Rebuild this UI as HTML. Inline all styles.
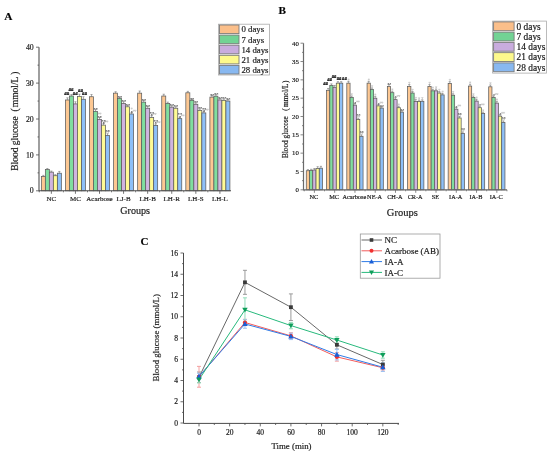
<!DOCTYPE html><html><head><meta charset="utf-8"><style>html,body{margin:0;padding:0;background:#fff;}svg{display:block;will-change:transform;}text{font-family:"Liberation Serif",serif;}text:not([fill]){fill:#1a1a1a;}text:not([stroke]){stroke:#1a1a1a;stroke-width:0.18px;}</style></head><body>
<svg width="550" height="455" viewBox="0 0 550 455">
<text x="4.3" y="19.9" font-size="11.3" font-weight="bold" fill="#000">A</text>
<rect x="41.35" y="176.44" width="4" height="14.36" fill="#fdc893" stroke="#5c5c5c" stroke-width="0.75"/>
<path d="M43.35 176.44V175.36M42.25 175.36H44.45" stroke="#666" stroke-width="0.55" fill="none"/>
<rect x="45.35" y="169.62" width="4" height="21.18" fill="#80de9f" stroke="#5c5c5c" stroke-width="0.75"/>
<path d="M47.35 169.62V168.54M46.25 168.54H48.45" stroke="#666" stroke-width="0.55" fill="none"/>
<rect x="49.35" y="172.13" width="4" height="18.67" fill="#cfb5e0" stroke="#5c5c5c" stroke-width="0.75"/>
<path d="M51.35 172.13V171.06M50.25 171.06H52.45" stroke="#666" stroke-width="0.55" fill="none"/>
<rect x="53.35" y="175.72" width="4" height="15.08" fill="#fffb94" stroke="#5c5c5c" stroke-width="0.75"/>
<path d="M55.35 175.72V174.65M54.25 174.65H56.45" stroke="#666" stroke-width="0.55" fill="none"/>
<rect x="57.35" y="173.21" width="4" height="17.59" fill="#8ec0f8" stroke="#5c5c5c" stroke-width="0.75"/>
<path d="M59.35 173.21V171.41M58.25 171.41H60.45" stroke="#666" stroke-width="0.55" fill="none"/>
<rect x="65.43" y="99.97" width="4" height="90.83" fill="#fdc893" stroke="#5c5c5c" stroke-width="0.75"/>
<path d="M67.43 99.97V97.82M66.33 97.82H68.53" stroke="#666" stroke-width="0.55" fill="none"/>
<rect x="69.43" y="96.02" width="4" height="94.78" fill="#80de9f" stroke="#5c5c5c" stroke-width="0.75"/>
<path d="M71.43 96.02V94.59M70.33 94.59H72.53" stroke="#666" stroke-width="0.55" fill="none"/>
<rect x="73.43" y="103.92" width="4" height="86.88" fill="#cfb5e0" stroke="#5c5c5c" stroke-width="0.75"/>
<path d="M75.43 103.92V101.77M74.33 101.77H76.53" stroke="#666" stroke-width="0.55" fill="none"/>
<rect x="77.43" y="96.38" width="4" height="94.42" fill="#fffb94" stroke="#5c5c5c" stroke-width="0.75"/>
<path d="M79.43 96.38V94.23M78.33 94.23H80.53" stroke="#666" stroke-width="0.55" fill="none"/>
<rect x="81.43" y="99.26" width="4" height="91.55" fill="#8ec0f8" stroke="#5c5c5c" stroke-width="0.75"/>
<path d="M83.43 99.26V96.74M82.33 96.74H84.53" stroke="#666" stroke-width="0.55" fill="none"/>
<rect x="89.51" y="96.74" width="4" height="94.06" fill="#fdc893" stroke="#5c5c5c" stroke-width="0.75"/>
<path d="M91.51 96.74V94.59M90.41 94.59H92.61" stroke="#666" stroke-width="0.55" fill="none"/>
<rect x="93.51" y="111.46" width="4" height="79.34" fill="#80de9f" stroke="#5c5c5c" stroke-width="0.75"/>
<path d="M95.51 111.46V109.67M94.41 109.67H96.61" stroke="#666" stroke-width="0.55" fill="none"/>
<text x="95.81" y="111.09" text-anchor="middle" font-size="4.4" font-weight="bold" fill="#444" stroke="none">**</text>
<rect x="97.51" y="119.36" width="4" height="71.44" fill="#cfb5e0" stroke="#5c5c5c" stroke-width="0.75"/>
<path d="M99.51 119.36V117.56M98.41 117.56H100.61" stroke="#666" stroke-width="0.55" fill="none"/>
<text x="99.81" y="118.98" text-anchor="middle" font-size="4.4" font-weight="bold" fill="#444" stroke="none">**</text>
<path d="M98.01 113.06H99.51L98.76 114.36Z" fill="none" stroke="#999" stroke-width="0.4"/>
<path d="M99.71 113.06H101.21L100.46 114.36Z" fill="none" stroke="#999" stroke-width="0.4"/>
<rect x="101.51" y="125.1" width="4" height="65.7" fill="#fffb94" stroke="#5c5c5c" stroke-width="0.75"/>
<path d="M103.51 125.1V123.31M102.41 123.31H104.61" stroke="#666" stroke-width="0.55" fill="none"/>
<text x="103.81" y="124.73" text-anchor="middle" font-size="4.4" font-weight="bold" fill="#444" stroke="none">*</text>
<path d="M104.91 121.01H106.41L105.66 122.31Z" fill="none" stroke="#999" stroke-width="0.4"/>
<path d="M106.61 121.01H108.11L107.36 122.31Z" fill="none" stroke="#999" stroke-width="0.4"/>
<text x="103.81" y="122.53" text-anchor="middle" font-size="4.4" font-weight="bold" fill="#444" stroke="none">**</text>
<rect x="105.51" y="135.51" width="4" height="55.29" fill="#8ec0f8" stroke="#5c5c5c" stroke-width="0.75"/>
<path d="M107.51 135.51V133.72M106.41 133.72H108.61" stroke="#666" stroke-width="0.55" fill="none"/>
<path d="M106.01 131.42H107.51L106.76 132.72Z" fill="none" stroke="#999" stroke-width="0.4"/>
<path d="M107.71 131.42H109.21L108.46 132.72Z" fill="none" stroke="#999" stroke-width="0.4"/>
<text x="107.81" y="132.94" text-anchor="middle" font-size="4.4" font-weight="bold" fill="#444" stroke="none">**</text>
<rect x="113.59" y="93.15" width="4" height="97.65" fill="#fdc893" stroke="#5c5c5c" stroke-width="0.75"/>
<path d="M115.59 93.15V91.72M114.49 91.72H116.69" stroke="#666" stroke-width="0.55" fill="none"/>
<rect x="117.59" y="98.54" width="4" height="92.26" fill="#80de9f" stroke="#5c5c5c" stroke-width="0.75"/>
<path d="M119.59 98.54V97.1M118.49 97.1H120.69" stroke="#666" stroke-width="0.55" fill="none"/>
<text x="119.89" y="98.52" text-anchor="middle" font-size="4.4" font-weight="bold" fill="#444" stroke="none">**</text>
<rect x="121.59" y="103.56" width="4" height="87.24" fill="#cfb5e0" stroke="#5c5c5c" stroke-width="0.75"/>
<path d="M123.59 103.56V101.77M122.49 101.77H124.69" stroke="#666" stroke-width="0.55" fill="none"/>
<text x="123.89" y="103.19" text-anchor="middle" font-size="4.4" font-weight="bold" fill="#444" stroke="none">**</text>
<rect x="125.59" y="106.79" width="4" height="84.01" fill="#fffb94" stroke="#5c5c5c" stroke-width="0.75"/>
<path d="M127.59 106.79V105.36M126.49 105.36H128.69" stroke="#666" stroke-width="0.55" fill="none"/>
<text x="127.89" y="106.78" text-anchor="middle" font-size="4.4" font-weight="bold" fill="#444" stroke="none">**</text>
<rect x="129.59" y="113.97" width="4" height="76.83" fill="#8ec0f8" stroke="#5c5c5c" stroke-width="0.75"/>
<path d="M131.59 113.97V112.54M130.49 112.54H132.69" stroke="#666" stroke-width="0.55" fill="none"/>
<text x="131.89" y="113.96" text-anchor="middle" font-size="4.4" font-weight="bold" fill="#444" stroke="none">*</text>
<path d="M132.99 110.24H134.49L133.74 111.54Z" fill="none" stroke="#999" stroke-width="0.4"/>
<path d="M134.69 110.24H136.19L135.44 111.54Z" fill="none" stroke="#999" stroke-width="0.4"/>
<path d="M130.94 108.04H132.44L131.69 109.34Z" fill="none" stroke="#999" stroke-width="0.4"/>
<rect x="137.67" y="93.15" width="4" height="97.65" fill="#fdc893" stroke="#5c5c5c" stroke-width="0.75"/>
<path d="M139.67 93.15V91M138.57 91H140.77" stroke="#666" stroke-width="0.55" fill="none"/>
<rect x="141.67" y="102.13" width="4" height="88.67" fill="#80de9f" stroke="#5c5c5c" stroke-width="0.75"/>
<path d="M143.67 102.13V100.33M142.57 100.33H144.77" stroke="#666" stroke-width="0.55" fill="none"/>
<text x="143.97" y="101.75" text-anchor="middle" font-size="4.4" font-weight="bold" fill="#444" stroke="none">**</text>
<rect x="145.67" y="108.23" width="4" height="82.57" fill="#cfb5e0" stroke="#5c5c5c" stroke-width="0.75"/>
<path d="M147.67 108.23V106.44M146.57 106.44H148.77" stroke="#666" stroke-width="0.55" fill="none"/>
<text x="147.97" y="107.86" text-anchor="middle" font-size="4.4" font-weight="bold" fill="#444" stroke="none">**</text>
<rect x="149.67" y="117.56" width="4" height="73.24" fill="#fffb94" stroke="#5c5c5c" stroke-width="0.75"/>
<path d="M151.67 117.56V115.77M150.57 115.77H152.77" stroke="#666" stroke-width="0.55" fill="none"/>
<text x="151.97" y="117.19" text-anchor="middle" font-size="4.4" font-weight="bold" fill="#444" stroke="none">*</text>
<path d="M153.07 113.47H154.57L153.82 114.77Z" fill="none" stroke="#999" stroke-width="0.4"/>
<path d="M154.77 113.47H156.27L155.52 114.77Z" fill="none" stroke="#999" stroke-width="0.4"/>
<text x="151.97" y="114.99" text-anchor="middle" font-size="4.4" font-weight="bold" fill="#444" stroke="none">**</text>
<rect x="153.67" y="125.46" width="4" height="65.34" fill="#8ec0f8" stroke="#5c5c5c" stroke-width="0.75"/>
<path d="M155.67 125.46V124.03M154.57 124.03H156.77" stroke="#666" stroke-width="0.55" fill="none"/>
<text x="155.97" y="125.45" text-anchor="middle" font-size="4.4" font-weight="bold" fill="#444" stroke="none">*</text>
<path d="M157.07 121.73H158.57L157.82 123.03Z" fill="none" stroke="#999" stroke-width="0.4"/>
<path d="M158.77 121.73H160.27L159.52 123.03Z" fill="none" stroke="#999" stroke-width="0.4"/>
<text x="155.97" y="123.25" text-anchor="middle" font-size="4.4" font-weight="bold" fill="#444" stroke="none">**</text>
<rect x="161.75" y="96.02" width="4" height="94.78" fill="#fdc893" stroke="#5c5c5c" stroke-width="0.75"/>
<path d="M163.75 96.02V94.23M162.65 94.23H164.85" stroke="#666" stroke-width="0.55" fill="none"/>
<rect x="165.75" y="103.56" width="4" height="87.24" fill="#80de9f" stroke="#5c5c5c" stroke-width="0.75"/>
<path d="M167.75 103.56V102.13M166.65 102.13H168.85" stroke="#666" stroke-width="0.55" fill="none"/>
<rect x="169.75" y="107.15" width="4" height="83.65" fill="#cfb5e0" stroke="#5c5c5c" stroke-width="0.75"/>
<path d="M171.75 107.15V105.72M170.65 105.72H172.85" stroke="#666" stroke-width="0.55" fill="none"/>
<text x="172.05" y="107.14" text-anchor="middle" font-size="4.4" font-weight="bold" fill="#444" stroke="none">**</text>
<rect x="173.75" y="108.23" width="4" height="82.57" fill="#fffb94" stroke="#5c5c5c" stroke-width="0.75"/>
<path d="M175.75 108.23V106.79M174.65 106.79H176.85" stroke="#666" stroke-width="0.55" fill="none"/>
<text x="176.05" y="108.21" text-anchor="middle" font-size="4.4" font-weight="bold" fill="#444" stroke="none">**</text>
<rect x="177.75" y="118.64" width="4" height="72.16" fill="#8ec0f8" stroke="#5c5c5c" stroke-width="0.75"/>
<path d="M179.75 118.64V117.21M178.65 117.21H180.85" stroke="#666" stroke-width="0.55" fill="none"/>
<text x="180.05" y="118.63" text-anchor="middle" font-size="4.4" font-weight="bold" fill="#444" stroke="none">*</text>
<path d="M181.15 114.91H182.65L181.9 116.21Z" fill="none" stroke="#999" stroke-width="0.4"/>
<path d="M182.85 114.91H184.35L183.6 116.21Z" fill="none" stroke="#999" stroke-width="0.4"/>
<text x="180.05" y="116.43" text-anchor="middle" font-size="4.4" font-weight="bold" fill="#444" stroke="none">**</text>
<rect x="185.83" y="92.79" width="4" height="98.01" fill="#fdc893" stroke="#5c5c5c" stroke-width="0.75"/>
<path d="M187.83 92.79V91.36M186.73 91.36H188.93" stroke="#666" stroke-width="0.55" fill="none"/>
<rect x="189.83" y="100.33" width="4" height="90.47" fill="#80de9f" stroke="#5c5c5c" stroke-width="0.75"/>
<path d="M191.83 100.33V99.26M190.73 99.26H192.93" stroke="#666" stroke-width="0.55" fill="none"/>
<text x="192.13" y="100.68" text-anchor="middle" font-size="4.4" font-weight="bold" fill="#444" stroke="none">**</text>
<rect x="193.83" y="104.28" width="4" height="86.52" fill="#cfb5e0" stroke="#5c5c5c" stroke-width="0.75"/>
<path d="M195.83 104.28V102.84M194.73 102.84H196.93" stroke="#666" stroke-width="0.55" fill="none"/>
<text x="196.13" y="104.27" text-anchor="middle" font-size="4.4" font-weight="bold" fill="#444" stroke="none">**</text>
<rect x="197.83" y="110.38" width="4" height="80.42" fill="#fffb94" stroke="#5c5c5c" stroke-width="0.75"/>
<path d="M199.83 110.38V108.95M198.73 108.95H200.93" stroke="#666" stroke-width="0.55" fill="none"/>
<text x="200.13" y="110.37" text-anchor="middle" font-size="4.4" font-weight="bold" fill="#444" stroke="none">**</text>
<rect x="201.83" y="112.9" width="4" height="77.9" fill="#8ec0f8" stroke="#5c5c5c" stroke-width="0.75"/>
<path d="M203.83 112.9V111.46M202.73 111.46H204.93" stroke="#666" stroke-width="0.55" fill="none"/>
<text x="204.13" y="112.88" text-anchor="middle" font-size="4.4" font-weight="bold" fill="#444" stroke="none">*</text>
<path d="M205.23 109.16H206.73L205.98 110.46Z" fill="none" stroke="#999" stroke-width="0.4"/>
<path d="M206.93 109.16H208.43L207.68 110.46Z" fill="none" stroke="#999" stroke-width="0.4"/>
<text x="204.13" y="110.68" text-anchor="middle" font-size="4.4" font-weight="bold" fill="#444" stroke="none">**</text>
<rect x="209.91" y="97.1" width="4" height="93.7" fill="#fdc893" stroke="#5c5c5c" stroke-width="0.75"/>
<path d="M211.91 97.1V95.31M210.81 95.31H213.01" stroke="#666" stroke-width="0.55" fill="none"/>
<text x="212.21" y="96.73" text-anchor="middle" font-size="4.4" font-weight="bold" fill="#444" stroke="none">**</text>
<rect x="213.91" y="96.2" width="4" height="94.6" fill="#80de9f" stroke="#5c5c5c" stroke-width="0.75"/>
<path d="M215.91 96.2V94.77M214.81 94.77H217.01" stroke="#666" stroke-width="0.55" fill="none"/>
<text x="216.21" y="96.19" text-anchor="middle" font-size="4.4" font-weight="bold" fill="#444" stroke="none">**</text>
<rect x="217.91" y="99.97" width="4" height="90.83" fill="#cfb5e0" stroke="#5c5c5c" stroke-width="0.75"/>
<path d="M219.91 99.97V98.54M218.81 98.54H221.01" stroke="#666" stroke-width="0.55" fill="none"/>
<text x="220.21" y="99.96" text-anchor="middle" font-size="4.4" font-weight="bold" fill="#444" stroke="none">**</text>
<rect x="221.91" y="100.33" width="4" height="90.47" fill="#fffb94" stroke="#5c5c5c" stroke-width="0.75"/>
<path d="M223.91 100.33V98.9M222.81 98.9H225.01" stroke="#666" stroke-width="0.55" fill="none"/>
<text x="224.21" y="100.32" text-anchor="middle" font-size="4.4" font-weight="bold" fill="#444" stroke="none">**</text>
<rect x="225.91" y="101.05" width="4" height="89.75" fill="#8ec0f8" stroke="#5c5c5c" stroke-width="0.75"/>
<path d="M227.91 101.05V99.61M226.81 99.61H229.01" stroke="#666" stroke-width="0.55" fill="none"/>
<text x="228.21" y="101.03" text-anchor="middle" font-size="4.4" font-weight="bold" fill="#444" stroke="none">**</text>
<path d="M39 47.2V190.8H231" stroke="#505050" stroke-width="1.1" fill="none"/>
<path d="M36 190.8H39" stroke="#505050" stroke-width="0.8"/>
<path d="M36 154.9H39" stroke="#505050" stroke-width="0.8"/>
<path d="M36 119H39" stroke="#505050" stroke-width="0.8"/>
<path d="M36 83.1H39" stroke="#505050" stroke-width="0.8"/>
<path d="M36 47.2H39" stroke="#505050" stroke-width="0.8"/>
<path d="M37.5 172.85H39" stroke="#505050" stroke-width="0.8"/>
<path d="M37.5 136.95H39" stroke="#505050" stroke-width="0.8"/>
<path d="M37.5 101.05H39" stroke="#505050" stroke-width="0.8"/>
<path d="M37.5 65.15H39" stroke="#505050" stroke-width="0.8"/>
<path d="M51.35 190.8V193.8" stroke="#505050" stroke-width="0.8"/>
<path d="M63.39 190.8V192.3" stroke="#505050" stroke-width="0.8"/>
<path d="M75.43 190.8V193.8" stroke="#505050" stroke-width="0.8"/>
<path d="M87.47 190.8V192.3" stroke="#505050" stroke-width="0.8"/>
<path d="M99.51 190.8V193.8" stroke="#505050" stroke-width="0.8"/>
<path d="M111.55 190.8V192.3" stroke="#505050" stroke-width="0.8"/>
<path d="M123.59 190.8V193.8" stroke="#505050" stroke-width="0.8"/>
<path d="M135.63 190.8V192.3" stroke="#505050" stroke-width="0.8"/>
<path d="M147.67 190.8V193.8" stroke="#505050" stroke-width="0.8"/>
<path d="M159.71 190.8V192.3" stroke="#505050" stroke-width="0.8"/>
<path d="M171.75 190.8V193.8" stroke="#505050" stroke-width="0.8"/>
<path d="M183.79 190.8V192.3" stroke="#505050" stroke-width="0.8"/>
<path d="M195.83 190.8V193.8" stroke="#505050" stroke-width="0.8"/>
<path d="M207.87 190.8V192.3" stroke="#505050" stroke-width="0.8"/>
<path d="M219.91 190.8V193.8" stroke="#505050" stroke-width="0.8"/>
<path d="M39.31 190.8V192.3" stroke="#505050" stroke-width="0.8"/>
<text x="33.7" y="193.45" text-anchor="end" font-size="7.8">0</text>
<text x="33.7" y="157.55" text-anchor="end" font-size="7.8">10</text>
<text x="33.7" y="121.65" text-anchor="end" font-size="7.8">20</text>
<text x="33.7" y="85.75" text-anchor="end" font-size="7.8">30</text>
<text x="33.7" y="49.85" text-anchor="end" font-size="7.8">40</text>
<text x="51.35" y="200.5" text-anchor="middle" font-size="7.0">NC</text>
<text x="75.43" y="200.5" text-anchor="middle" font-size="7.0">MC</text>
<text x="99.51" y="200.5" text-anchor="middle" font-size="7.0">Acarbose</text>
<text x="123.59" y="200.5" text-anchor="middle" font-size="7.0">LJ-B</text>
<text x="147.67" y="200.5" text-anchor="middle" font-size="7.0">LH-B</text>
<text x="171.75" y="200.5" text-anchor="middle" font-size="7.0">LH-R</text>
<text x="195.83" y="200.5" text-anchor="middle" font-size="7.0">LH-S</text>
<text x="219.91" y="200.5" text-anchor="middle" font-size="7.0">LH-L</text>
<text x="135.2" y="213.6" text-anchor="middle" font-size="10.1">Groups</text>
<text transform="translate(17.9,170.8) rotate(-90)" font-size="9.5">Blood glucose</text>
<text transform="translate(17.9,111.5) rotate(-90)" font-size="9.5">(</text>
<text transform="translate(17.9,107.2) rotate(-90)" font-size="9.5">mmol/L</text>
<text transform="translate(17.9,74.7) rotate(-90)" font-size="9.5">)</text>
<text transform="translate(66.8,94) scale(1,0.62)" y="1.7" text-anchor="middle" font-size="5.0" font-weight="bold" fill="#111" stroke="#111" stroke-width="0.25">##</text>
<text transform="translate(71.1,90.3) scale(1,0.62)" y="1.7" text-anchor="middle" font-size="5.0" font-weight="bold" fill="#111" stroke="#111" stroke-width="0.25">##</text>
<text transform="translate(75.2,94) scale(1,0.62)" y="1.7" text-anchor="middle" font-size="5.0" font-weight="bold" fill="#111" stroke="#111" stroke-width="0.25">##</text>
<text transform="translate(80.4,90.6) scale(1,0.62)" y="1.7" text-anchor="middle" font-size="5.0" font-weight="bold" fill="#111" stroke="#111" stroke-width="0.25">##</text>
<text transform="translate(84.5,93.5) scale(1,0.62)" y="1.7" text-anchor="middle" font-size="5.0" font-weight="bold" fill="#111" stroke="#111" stroke-width="0.25">##</text>
<rect x="218.5" y="24.2" width="51" height="50.8" fill="#fff" stroke="#aaa" stroke-width="0.8"/>
<rect x="219.5" y="25" width="19.5" height="8.6" fill="#fbbf8a" stroke="#7a7a7a" stroke-width="0.9"/>
<text x="241.4" y="32.4" font-size="8.8">0 days</text>
<rect x="219.5" y="35.1" width="19.5" height="8.6" fill="#72d394" stroke="#7a7a7a" stroke-width="0.9"/>
<text x="241.4" y="42.5" font-size="8.8">7 days</text>
<rect x="219.5" y="45.2" width="19.5" height="8.6" fill="#c9acde" stroke="#7a7a7a" stroke-width="0.9"/>
<text x="241.4" y="52.6" font-size="8.8">14 days</text>
<rect x="219.5" y="55.3" width="19.5" height="8.6" fill="#fdf98c" stroke="#7a7a7a" stroke-width="0.9"/>
<text x="241.4" y="62.7" font-size="8.8">21 days</text>
<rect x="219.5" y="65.4" width="19.5" height="8.6" fill="#88b8f0" stroke="#7a7a7a" stroke-width="0.9"/>
<text x="241.4" y="72.8" font-size="8.8">28 days</text>
<text x="278.4" y="13.9" font-size="11.2" font-weight="bold" fill="#000">B</text>
<rect x="306.27" y="170.74" width="3.25" height="19.06" fill="#fdc893" stroke="#5c5c5c" stroke-width="0.75"/>
<path d="M307.9 170.74V169.64M306.8 169.64H309" stroke="#666" stroke-width="0.55" fill="none"/>
<rect x="309.52" y="170.38" width="3.25" height="19.42" fill="#80de9f" stroke="#5c5c5c" stroke-width="0.75"/>
<path d="M311.15 170.38V169.28M310.05 169.28H312.25" stroke="#666" stroke-width="0.55" fill="none"/>
<rect x="312.77" y="170.01" width="3.25" height="19.79" fill="#cfb5e0" stroke="#5c5c5c" stroke-width="0.75"/>
<path d="M314.4 170.01V168.54M313.3 168.54H315.5" stroke="#666" stroke-width="0.55" fill="none"/>
<rect x="316.02" y="168.54" width="3.25" height="21.26" fill="#fffb94" stroke="#5c5c5c" stroke-width="0.75"/>
<path d="M317.65 168.54V166.71M316.55 166.71H318.75" stroke="#666" stroke-width="0.55" fill="none"/>
<rect x="319.27" y="168.18" width="3.25" height="21.62" fill="#8ec0f8" stroke="#5c5c5c" stroke-width="0.75"/>
<path d="M320.9 168.18V166.34M319.8 166.34H322" stroke="#666" stroke-width="0.55" fill="none"/>
<rect x="326.54" y="90.3" width="3.25" height="99.5" fill="#fdc893" stroke="#5c5c5c" stroke-width="0.75"/>
<path d="M328.17 90.3V88.46M327.07 88.46H329.27" stroke="#666" stroke-width="0.55" fill="none"/>
<rect x="329.79" y="85.35" width="3.25" height="104.45" fill="#80de9f" stroke="#5c5c5c" stroke-width="0.75"/>
<path d="M331.42 85.35V83.88M330.32 83.88H332.52" stroke="#666" stroke-width="0.55" fill="none"/>
<rect x="333.04" y="87.29" width="3.25" height="102.51" fill="#cfb5e0" stroke="#5c5c5c" stroke-width="0.75"/>
<path d="M334.67 87.29V85.46M333.57 85.46H335.77" stroke="#666" stroke-width="0.55" fill="none"/>
<rect x="336.29" y="83.15" width="3.25" height="106.65" fill="#fffb94" stroke="#5c5c5c" stroke-width="0.75"/>
<path d="M337.92 83.15V81.68M336.82 81.68H339.02" stroke="#666" stroke-width="0.55" fill="none"/>
<rect x="339.54" y="83.15" width="3.25" height="106.65" fill="#8ec0f8" stroke="#5c5c5c" stroke-width="0.75"/>
<path d="M341.17 83.15V81.68M340.07 81.68H342.27" stroke="#666" stroke-width="0.55" fill="none"/>
<rect x="346.81" y="83.15" width="3.25" height="106.65" fill="#fdc893" stroke="#5c5c5c" stroke-width="0.75"/>
<path d="M348.44 83.15V81.32M347.34 81.32H349.54" stroke="#666" stroke-width="0.55" fill="none"/>
<path d="M347.79 79.02H349.29L348.54 80.32Z" fill="none" stroke="#999" stroke-width="0.4"/>
<rect x="350.06" y="97.44" width="3.25" height="92.36" fill="#80de9f" stroke="#5c5c5c" stroke-width="0.75"/>
<path d="M351.69 97.44V95.98M350.59 95.98H352.79" stroke="#666" stroke-width="0.55" fill="none"/>
<path d="M351.04 93.68H352.54L351.79 94.98Z" fill="none" stroke="#999" stroke-width="0.4"/>
<rect x="353.31" y="105.14" width="3.25" height="84.66" fill="#cfb5e0" stroke="#5c5c5c" stroke-width="0.75"/>
<path d="M354.94 105.14V103.31M353.84 103.31H356.04" stroke="#666" stroke-width="0.55" fill="none"/>
<text x="355.24" y="104.51" text-anchor="middle" font-size="4.0" font-weight="bold" fill="#444" stroke="none">*</text>
<path d="M356.34 101.01H357.84L357.09 102.31Z" fill="none" stroke="#999" stroke-width="0.4"/>
<path d="M358.04 101.01H359.54L358.79 102.31Z" fill="none" stroke="#999" stroke-width="0.4"/>
<rect x="356.56" y="119.62" width="3.25" height="70.18" fill="#fffb94" stroke="#5c5c5c" stroke-width="0.75"/>
<path d="M358.19 119.62V118.15M357.09 118.15H359.29" stroke="#666" stroke-width="0.55" fill="none"/>
<path d="M356.69 115.85H358.19L357.44 117.15Z" fill="none" stroke="#999" stroke-width="0.4"/>
<path d="M358.39 115.85H359.89L359.14 117.15Z" fill="none" stroke="#999" stroke-width="0.4"/>
<text x="358.49" y="117.15" text-anchor="middle" font-size="4.0" font-weight="bold" fill="#444" stroke="none">**</text>
<rect x="359.81" y="136.29" width="3.25" height="53.51" fill="#8ec0f8" stroke="#5c5c5c" stroke-width="0.75"/>
<path d="M361.44 136.29V134.82M360.34 134.82H362.54" stroke="#666" stroke-width="0.55" fill="none"/>
<path d="M359.94 132.52H361.44L360.69 133.82Z" fill="none" stroke="#999" stroke-width="0.4"/>
<path d="M361.64 132.52H363.14L362.39 133.82Z" fill="none" stroke="#999" stroke-width="0.4"/>
<text x="361.74" y="133.82" text-anchor="middle" font-size="4.0" font-weight="bold" fill="#444" stroke="none">**</text>
<rect x="367.08" y="83.15" width="3.25" height="106.65" fill="#fdc893" stroke="#5c5c5c" stroke-width="0.75"/>
<path d="M368.71 83.15V81.32M367.61 81.32H369.81" stroke="#666" stroke-width="0.55" fill="none"/>
<path d="M368.06 79.02H369.56L368.81 80.32Z" fill="none" stroke="#999" stroke-width="0.4"/>
<rect x="370.33" y="89.38" width="3.25" height="100.42" fill="#80de9f" stroke="#5c5c5c" stroke-width="0.75"/>
<path d="M371.96 89.38V87.91M370.86 87.91H373.06" stroke="#666" stroke-width="0.55" fill="none"/>
<path d="M371.31 85.61H372.81L372.06 86.91Z" fill="none" stroke="#999" stroke-width="0.4"/>
<rect x="373.58" y="98.18" width="3.25" height="91.62" fill="#cfb5e0" stroke="#5c5c5c" stroke-width="0.75"/>
<path d="M375.21 98.18V96.34M374.11 96.34H376.31" stroke="#666" stroke-width="0.55" fill="none"/>
<path d="M374.56 94.04H376.06L375.31 95.34Z" fill="none" stroke="#999" stroke-width="0.4"/>
<rect x="376.83" y="105.87" width="3.25" height="83.93" fill="#fffb94" stroke="#5c5c5c" stroke-width="0.75"/>
<path d="M378.46 105.87V104.41M377.36 104.41H379.56" stroke="#666" stroke-width="0.55" fill="none"/>
<text x="378.76" y="105.61" text-anchor="middle" font-size="4.0" font-weight="bold" fill="#444" stroke="none">*</text>
<path d="M379.86 102.11H381.36L380.61 103.41Z" fill="none" stroke="#999" stroke-width="0.4"/>
<path d="M381.56 102.11H383.06L382.31 103.41Z" fill="none" stroke="#999" stroke-width="0.4"/>
<rect x="380.08" y="108.07" width="3.25" height="81.73" fill="#8ec0f8" stroke="#5c5c5c" stroke-width="0.75"/>
<path d="M381.71 108.07V106.6M380.61 106.6H382.81" stroke="#666" stroke-width="0.55" fill="none"/>
<text x="382.01" y="107.8" text-anchor="middle" font-size="4.0" font-weight="bold" fill="#444" stroke="none">**</text>
<rect x="387.35" y="86.45" width="3.25" height="103.35" fill="#fdc893" stroke="#5c5c5c" stroke-width="0.75"/>
<path d="M388.98 86.45V84.61M387.88 84.61H390.08" stroke="#666" stroke-width="0.55" fill="none"/>
<text x="389.28" y="85.81" text-anchor="middle" font-size="4.0" font-weight="bold" fill="#444" stroke="none">**</text>
<rect x="390.6" y="92.68" width="3.25" height="97.12" fill="#80de9f" stroke="#5c5c5c" stroke-width="0.75"/>
<path d="M392.23 92.68V91.21M391.13 91.21H393.33" stroke="#666" stroke-width="0.55" fill="none"/>
<path d="M391.58 88.91H393.08L392.33 90.21Z" fill="none" stroke="#999" stroke-width="0.4"/>
<rect x="393.85" y="99.64" width="3.25" height="90.16" fill="#cfb5e0" stroke="#5c5c5c" stroke-width="0.75"/>
<path d="M395.48 99.64V97.81M394.38 97.81H396.58" stroke="#666" stroke-width="0.55" fill="none"/>
<text x="395.78" y="99.01" text-anchor="middle" font-size="4.0" font-weight="bold" fill="#444" stroke="none">*</text>
<path d="M396.88 95.51H398.38L397.63 96.81Z" fill="none" stroke="#999" stroke-width="0.4"/>
<path d="M398.58 95.51H400.08L399.33 96.81Z" fill="none" stroke="#999" stroke-width="0.4"/>
<rect x="397.1" y="107.7" width="3.25" height="82.1" fill="#fffb94" stroke="#5c5c5c" stroke-width="0.75"/>
<path d="M398.73 107.7V106.24M397.63 106.24H399.83" stroke="#666" stroke-width="0.55" fill="none"/>
<path d="M398.08 103.94H399.58L398.83 105.24Z" fill="none" stroke="#999" stroke-width="0.4"/>
<rect x="400.35" y="112.1" width="3.25" height="77.7" fill="#8ec0f8" stroke="#5c5c5c" stroke-width="0.75"/>
<path d="M401.98 112.1V110.64M400.88 110.64H403.08" stroke="#666" stroke-width="0.55" fill="none"/>
<text x="402.28" y="111.84" text-anchor="middle" font-size="4.0" font-weight="bold" fill="#444" stroke="none">**</text>
<rect x="407.62" y="86.45" width="3.25" height="103.35" fill="#fdc893" stroke="#5c5c5c" stroke-width="0.75"/>
<path d="M409.25 86.45V84.61M408.15 84.61H410.35" stroke="#666" stroke-width="0.55" fill="none"/>
<path d="M408.6 82.31H410.1L409.35 83.61Z" fill="none" stroke="#999" stroke-width="0.4"/>
<rect x="410.88" y="93.04" width="3.25" height="96.76" fill="#80de9f" stroke="#5c5c5c" stroke-width="0.75"/>
<path d="M412.5 93.04V91.58M411.4 91.58H413.6" stroke="#666" stroke-width="0.55" fill="none"/>
<path d="M411.85 89.28H413.35L412.6 90.58Z" fill="none" stroke="#999" stroke-width="0.4"/>
<rect x="414.12" y="101.47" width="3.25" height="88.33" fill="#cfb5e0" stroke="#5c5c5c" stroke-width="0.75"/>
<path d="M415.75 101.47V99.64M414.65 99.64H416.85" stroke="#666" stroke-width="0.55" fill="none"/>
<path d="M415.1 97.34H416.6L415.85 98.64Z" fill="none" stroke="#999" stroke-width="0.4"/>
<rect x="417.38" y="101.47" width="3.25" height="88.33" fill="#fffb94" stroke="#5c5c5c" stroke-width="0.75"/>
<path d="M419 101.47V100.01M417.9 100.01H420.1" stroke="#666" stroke-width="0.55" fill="none"/>
<path d="M418.35 97.71H419.85L419.1 99.01Z" fill="none" stroke="#999" stroke-width="0.4"/>
<rect x="420.62" y="101.29" width="3.25" height="88.51" fill="#8ec0f8" stroke="#5c5c5c" stroke-width="0.75"/>
<path d="M422.25 101.29V99.82M421.15 99.82H423.35" stroke="#666" stroke-width="0.55" fill="none"/>
<path d="M421.6 97.52H423.1L422.35 98.82Z" fill="none" stroke="#999" stroke-width="0.4"/>
<rect x="427.89" y="86.45" width="3.25" height="103.35" fill="#fdc893" stroke="#5c5c5c" stroke-width="0.75"/>
<path d="M429.52 86.45V84.61M428.42 84.61H430.62" stroke="#666" stroke-width="0.55" fill="none"/>
<path d="M428.87 82.31H430.37L429.62 83.61Z" fill="none" stroke="#999" stroke-width="0.4"/>
<rect x="431.14" y="90.85" width="3.25" height="98.95" fill="#80de9f" stroke="#5c5c5c" stroke-width="0.75"/>
<path d="M432.77 90.85V89.38M431.67 89.38H433.87" stroke="#666" stroke-width="0.55" fill="none"/>
<path d="M432.12 87.08H433.62L432.87 88.38Z" fill="none" stroke="#999" stroke-width="0.4"/>
<rect x="434.39" y="90.85" width="3.25" height="98.95" fill="#cfb5e0" stroke="#5c5c5c" stroke-width="0.75"/>
<path d="M436.02 90.85V89.01M434.92 89.01H437.12" stroke="#666" stroke-width="0.55" fill="none"/>
<path d="M435.37 86.71H436.87L436.12 88.01Z" fill="none" stroke="#999" stroke-width="0.4"/>
<rect x="437.64" y="93.04" width="3.25" height="96.76" fill="#fffb94" stroke="#5c5c5c" stroke-width="0.75"/>
<path d="M439.27 93.04V91.58M438.17 91.58H440.37" stroke="#666" stroke-width="0.55" fill="none"/>
<path d="M438.62 89.28H440.12L439.37 90.58Z" fill="none" stroke="#999" stroke-width="0.4"/>
<rect x="440.89" y="94.88" width="3.25" height="94.92" fill="#8ec0f8" stroke="#5c5c5c" stroke-width="0.75"/>
<path d="M442.52 94.88V93.41M441.42 93.41H443.62" stroke="#666" stroke-width="0.55" fill="none"/>
<path d="M441.87 91.11H443.37L442.62 92.41Z" fill="none" stroke="#999" stroke-width="0.4"/>
<rect x="448.16" y="83.52" width="3.25" height="106.28" fill="#fdc893" stroke="#5c5c5c" stroke-width="0.75"/>
<path d="M449.79 83.52V81.68M448.69 81.68H450.89" stroke="#666" stroke-width="0.55" fill="none"/>
<path d="M449.14 79.38H450.64L449.89 80.68Z" fill="none" stroke="#999" stroke-width="0.4"/>
<rect x="451.41" y="95.24" width="3.25" height="94.56" fill="#80de9f" stroke="#5c5c5c" stroke-width="0.75"/>
<path d="M453.04 95.24V93.78M451.94 93.78H454.14" stroke="#666" stroke-width="0.55" fill="none"/>
<path d="M452.39 91.48H453.89L453.14 92.78Z" fill="none" stroke="#999" stroke-width="0.4"/>
<rect x="454.66" y="109.17" width="3.25" height="80.63" fill="#cfb5e0" stroke="#5c5c5c" stroke-width="0.75"/>
<path d="M456.29 109.17V107.34M455.19 107.34H457.39" stroke="#666" stroke-width="0.55" fill="none"/>
<text x="456.59" y="108.54" text-anchor="middle" font-size="4.0" font-weight="bold" fill="#444" stroke="none">*</text>
<path d="M457.69 105.04H459.19L458.44 106.34Z" fill="none" stroke="#999" stroke-width="0.4"/>
<path d="M459.39 105.04H460.89L460.14 106.34Z" fill="none" stroke="#999" stroke-width="0.4"/>
<rect x="457.91" y="117.97" width="3.25" height="71.83" fill="#fffb94" stroke="#5c5c5c" stroke-width="0.75"/>
<path d="M459.54 117.97V116.5M458.44 116.5H460.64" stroke="#666" stroke-width="0.55" fill="none"/>
<path d="M458.04 114.2H459.54L458.79 115.5Z" fill="none" stroke="#999" stroke-width="0.4"/>
<path d="M459.74 114.2H461.24L460.49 115.5Z" fill="none" stroke="#999" stroke-width="0.4"/>
<text x="459.84" y="115.5" text-anchor="middle" font-size="4.0" font-weight="bold" fill="#444" stroke="none">**</text>
<rect x="461.16" y="133.36" width="3.25" height="56.44" fill="#8ec0f8" stroke="#5c5c5c" stroke-width="0.75"/>
<path d="M462.79 133.36V131.89M461.69 131.89H463.89" stroke="#666" stroke-width="0.55" fill="none"/>
<path d="M461.29 129.59H462.79L462.04 130.89Z" fill="none" stroke="#999" stroke-width="0.4"/>
<path d="M462.99 129.59H464.49L463.74 130.89Z" fill="none" stroke="#999" stroke-width="0.4"/>
<text x="463.09" y="130.89" text-anchor="middle" font-size="4.0" font-weight="bold" fill="#444" stroke="none">**</text>
<rect x="468.43" y="86.08" width="3.25" height="103.72" fill="#fdc893" stroke="#5c5c5c" stroke-width="0.75"/>
<path d="M470.06 86.08V84.25M468.96 84.25H471.16" stroke="#666" stroke-width="0.55" fill="none"/>
<path d="M469.41 81.95H470.91L470.16 83.25Z" fill="none" stroke="#999" stroke-width="0.4"/>
<rect x="471.68" y="97.44" width="3.25" height="92.36" fill="#80de9f" stroke="#5c5c5c" stroke-width="0.75"/>
<path d="M473.31 97.44V95.98M472.21 95.98H474.41" stroke="#666" stroke-width="0.55" fill="none"/>
<path d="M472.66 93.68H474.16L473.41 94.98Z" fill="none" stroke="#999" stroke-width="0.4"/>
<rect x="474.93" y="101.11" width="3.25" height="88.69" fill="#cfb5e0" stroke="#5c5c5c" stroke-width="0.75"/>
<path d="M476.56 101.11V99.27M475.46 99.27H477.66" stroke="#666" stroke-width="0.55" fill="none"/>
<path d="M475.91 96.97H477.41L476.66 98.27Z" fill="none" stroke="#999" stroke-width="0.4"/>
<rect x="478.18" y="107.7" width="3.25" height="82.1" fill="#fffb94" stroke="#5c5c5c" stroke-width="0.75"/>
<path d="M479.81 107.7V106.24M478.71 106.24H480.91" stroke="#666" stroke-width="0.55" fill="none"/>
<text x="480.11" y="107.44" text-anchor="middle" font-size="4.0" font-weight="bold" fill="#444" stroke="none">*</text>
<path d="M481.21 103.94H482.71L481.96 105.24Z" fill="none" stroke="#999" stroke-width="0.4"/>
<path d="M482.91 103.94H484.41L483.66 105.24Z" fill="none" stroke="#999" stroke-width="0.4"/>
<rect x="481.43" y="113.57" width="3.25" height="76.23" fill="#8ec0f8" stroke="#5c5c5c" stroke-width="0.75"/>
<path d="M483.06 113.57V112.1M481.96 112.1H484.16" stroke="#666" stroke-width="0.55" fill="none"/>
<path d="M482.41 109.8H483.91L483.16 111.1Z" fill="none" stroke="#999" stroke-width="0.4"/>
<rect x="488.7" y="86.81" width="3.25" height="102.99" fill="#fdc893" stroke="#5c5c5c" stroke-width="0.75"/>
<path d="M490.33 86.81V84.98M489.23 84.98H491.43" stroke="#666" stroke-width="0.55" fill="none"/>
<path d="M489.68 82.68H491.18L490.43 83.98Z" fill="none" stroke="#999" stroke-width="0.4"/>
<rect x="491.95" y="97.44" width="3.25" height="92.36" fill="#80de9f" stroke="#5c5c5c" stroke-width="0.75"/>
<path d="M493.58 97.44V95.98M492.48 95.98H494.68" stroke="#666" stroke-width="0.55" fill="none"/>
<text x="493.88" y="97.18" text-anchor="middle" font-size="4.0" font-weight="bold" fill="#444" stroke="none">*</text>
<path d="M494.98 93.68H496.48L495.73 94.98Z" fill="none" stroke="#999" stroke-width="0.4"/>
<path d="M496.68 93.68H498.18L497.43 94.98Z" fill="none" stroke="#999" stroke-width="0.4"/>
<rect x="495.2" y="103.12" width="3.25" height="86.68" fill="#cfb5e0" stroke="#5c5c5c" stroke-width="0.75"/>
<path d="M496.83 103.12V101.29M495.73 101.29H497.93" stroke="#666" stroke-width="0.55" fill="none"/>
<path d="M496.18 98.99H497.68L496.93 100.29Z" fill="none" stroke="#999" stroke-width="0.4"/>
<rect x="498.45" y="116.13" width="3.25" height="73.67" fill="#fffb94" stroke="#5c5c5c" stroke-width="0.75"/>
<path d="M500.08 116.13V114.67M498.98 114.67H501.18" stroke="#666" stroke-width="0.55" fill="none"/>
<text x="500.38" y="115.87" text-anchor="middle" font-size="4.0" font-weight="bold" fill="#444" stroke="none">*</text>
<path d="M501.48 112.37H502.98L502.23 113.67Z" fill="none" stroke="#999" stroke-width="0.4"/>
<path d="M503.18 112.37H504.68L503.93 113.67Z" fill="none" stroke="#999" stroke-width="0.4"/>
<rect x="501.7" y="122.36" width="3.25" height="67.44" fill="#8ec0f8" stroke="#5c5c5c" stroke-width="0.75"/>
<path d="M503.33 122.36V120.9M502.23 120.9H504.43" stroke="#666" stroke-width="0.55" fill="none"/>
<path d="M501.83 118.6H503.33L502.58 119.9Z" fill="none" stroke="#999" stroke-width="0.4"/>
<path d="M503.53 118.6H505.03L504.28 119.9Z" fill="none" stroke="#999" stroke-width="0.4"/>
<text x="503.63" y="119.9" text-anchor="middle" font-size="4.0" font-weight="bold" fill="#444" stroke="none">**</text>
<path d="M303.5 43.2V189.8H507" stroke="#6a6a6a" stroke-width="1.2" fill="none"/>
<path d="M300.5 189.8H303.5" stroke="#6a6a6a" stroke-width="0.8"/>
<path d="M300.5 171.48H303.5" stroke="#6a6a6a" stroke-width="0.8"/>
<path d="M300.5 153.15H303.5" stroke="#6a6a6a" stroke-width="0.8"/>
<path d="M300.5 134.83H303.5" stroke="#6a6a6a" stroke-width="0.8"/>
<path d="M300.5 116.5H303.5" stroke="#6a6a6a" stroke-width="0.8"/>
<path d="M300.5 98.18H303.5" stroke="#6a6a6a" stroke-width="0.8"/>
<path d="M300.5 79.85H303.5" stroke="#6a6a6a" stroke-width="0.8"/>
<path d="M300.5 61.53H303.5" stroke="#6a6a6a" stroke-width="0.8"/>
<path d="M300.5 43.2H303.5" stroke="#6a6a6a" stroke-width="0.8"/>
<path d="M302.0 180.64H303.5" stroke="#6a6a6a" stroke-width="0.8"/>
<path d="M302.0 162.31H303.5" stroke="#6a6a6a" stroke-width="0.8"/>
<path d="M302.0 143.99H303.5" stroke="#6a6a6a" stroke-width="0.8"/>
<path d="M302.0 125.66H303.5" stroke="#6a6a6a" stroke-width="0.8"/>
<path d="M302.0 107.34H303.5" stroke="#6a6a6a" stroke-width="0.8"/>
<path d="M302.0 89.01H303.5" stroke="#6a6a6a" stroke-width="0.8"/>
<path d="M302.0 70.69H303.5" stroke="#6a6a6a" stroke-width="0.8"/>
<path d="M302.0 52.36H303.5" stroke="#6a6a6a" stroke-width="0.8"/>
<path d="M314.4 189.8V192.8" stroke="#6a6a6a" stroke-width="0.8"/>
<path d="M324.53 189.8V191.3" stroke="#6a6a6a" stroke-width="0.8"/>
<path d="M334.67 189.8V192.8" stroke="#6a6a6a" stroke-width="0.8"/>
<path d="M344.8 189.8V191.3" stroke="#6a6a6a" stroke-width="0.8"/>
<path d="M354.94 189.8V192.8" stroke="#6a6a6a" stroke-width="0.8"/>
<path d="M365.07 189.8V191.3" stroke="#6a6a6a" stroke-width="0.8"/>
<path d="M375.21 189.8V192.8" stroke="#6a6a6a" stroke-width="0.8"/>
<path d="M385.34 189.8V191.3" stroke="#6a6a6a" stroke-width="0.8"/>
<path d="M395.48 189.8V192.8" stroke="#6a6a6a" stroke-width="0.8"/>
<path d="M405.61 189.8V191.3" stroke="#6a6a6a" stroke-width="0.8"/>
<path d="M415.75 189.8V192.8" stroke="#6a6a6a" stroke-width="0.8"/>
<path d="M425.88 189.8V191.3" stroke="#6a6a6a" stroke-width="0.8"/>
<path d="M436.02 189.8V192.8" stroke="#6a6a6a" stroke-width="0.8"/>
<path d="M446.15 189.8V191.3" stroke="#6a6a6a" stroke-width="0.8"/>
<path d="M456.29 189.8V192.8" stroke="#6a6a6a" stroke-width="0.8"/>
<path d="M466.42 189.8V191.3" stroke="#6a6a6a" stroke-width="0.8"/>
<path d="M476.56 189.8V192.8" stroke="#6a6a6a" stroke-width="0.8"/>
<path d="M486.69 189.8V191.3" stroke="#6a6a6a" stroke-width="0.8"/>
<path d="M496.83 189.8V192.8" stroke="#6a6a6a" stroke-width="0.8"/>
<path d="M506.96 189.8V191.3" stroke="#6a6a6a" stroke-width="0.8"/>
<path d="M304.26 189.8V191.3" stroke="#6a6a6a" stroke-width="0.8"/>
<text x="298.8" y="192.11" text-anchor="end" font-size="6.8">0</text>
<text x="298.8" y="173.79" text-anchor="end" font-size="6.8">5</text>
<text x="298.8" y="155.46" text-anchor="end" font-size="6.8">10</text>
<text x="298.8" y="137.14" text-anchor="end" font-size="6.8">15</text>
<text x="298.8" y="118.81" text-anchor="end" font-size="6.8">20</text>
<text x="298.8" y="100.49" text-anchor="end" font-size="6.8">25</text>
<text x="298.8" y="82.16" text-anchor="end" font-size="6.8">30</text>
<text x="298.8" y="63.84" text-anchor="end" font-size="6.8">35</text>
<text x="298.8" y="45.51" text-anchor="end" font-size="6.8">40</text>
<text x="313.8" y="198.9" text-anchor="middle" font-size="6.3">NC</text>
<text x="334.07" y="198.9" text-anchor="middle" font-size="6.3">MC</text>
<text x="354.34" y="198.9" text-anchor="middle" font-size="6.3">Acarbose</text>
<text x="374.61" y="198.9" text-anchor="middle" font-size="6.3">NE-A</text>
<text x="394.88" y="198.9" text-anchor="middle" font-size="6.3">CH-A</text>
<text x="415.15" y="198.9" text-anchor="middle" font-size="6.3">CR-A</text>
<text x="435.42" y="198.9" text-anchor="middle" font-size="6.3">SE</text>
<text x="455.69" y="198.9" text-anchor="middle" font-size="6.3">IA-A</text>
<text x="475.96" y="198.9" text-anchor="middle" font-size="6.3">IA-B</text>
<text x="496.23" y="198.9" text-anchor="middle" font-size="6.3">IA-C</text>
<text x="402.3" y="216.1" text-anchor="middle" font-size="10.5">Groups</text>
<text transform="translate(288.2,158.1) rotate(-90)" font-size="7.3">Blood glucose</text>
<text transform="translate(288.2,110.7) rotate(-90)" font-size="7.3">(</text>
<text transform="translate(288.2,107) rotate(-90)" font-size="7.3">mmol/L</text>
<text transform="translate(288.2,83.1) rotate(-90)" font-size="7.3">)</text>
<text transform="translate(325.5,84) scale(1,0.62)" y="1.6" text-anchor="middle" font-size="4.7" font-weight="bold" fill="#111" stroke="#111" stroke-width="0.25">##</text>
<text transform="translate(329.5,80.3) scale(1,0.62)" y="1.6" text-anchor="middle" font-size="4.7" font-weight="bold" fill="#111" stroke="#111" stroke-width="0.25">##</text>
<text transform="translate(334,76.7) scale(1,0.62)" y="1.6" text-anchor="middle" font-size="4.7" font-weight="bold" fill="#111" stroke="#111" stroke-width="0.25">##</text>
<text transform="translate(339,78.8) scale(1,0.62)" y="1.6" text-anchor="middle" font-size="4.7" font-weight="bold" fill="#111" stroke="#111" stroke-width="0.25">##</text>
<text transform="translate(344.4,78.8) scale(1,0.62)" y="1.6" text-anchor="middle" font-size="4.7" font-weight="bold" fill="#111" stroke="#111" stroke-width="0.25">##</text>
<rect x="492.6" y="21.1" width="54" height="52" fill="#fff" stroke="#aaa" stroke-width="0.8"/>
<rect x="493.6" y="21.9" width="20.5" height="8.8" fill="#fbbf8a" stroke="#7a7a7a" stroke-width="0.9"/>
<text x="516.5" y="29.5" font-size="9.4">0 days</text>
<rect x="493.6" y="32.15" width="20.5" height="8.8" fill="#72d394" stroke="#7a7a7a" stroke-width="0.9"/>
<text x="516.5" y="39.75" font-size="9.4">7 days</text>
<rect x="493.6" y="42.4" width="20.5" height="8.8" fill="#c9acde" stroke="#7a7a7a" stroke-width="0.9"/>
<text x="516.5" y="50" font-size="9.4">14 days</text>
<rect x="493.6" y="52.65" width="20.5" height="8.8" fill="#fdf98c" stroke="#7a7a7a" stroke-width="0.9"/>
<text x="516.5" y="60.25" font-size="9.4">21 days</text>
<rect x="493.6" y="62.9" width="20.5" height="8.8" fill="#88b8f0" stroke="#7a7a7a" stroke-width="0.9"/>
<text x="516.5" y="70.5" font-size="9.4">28 days</text>
<text x="140.4" y="245.3" font-size="11" font-weight="bold" fill="#000">C</text>
<path d="M183.5 253V423.4H399" stroke="#4a4a4a" stroke-width="1" fill="none"/>
<path d="M180.5 423H183.5" stroke="#4a4a4a" stroke-width="0.8"/>
<text x="178.1" y="425.6" text-anchor="end" font-size="7.6">0</text>
<path d="M180.5 401.75H183.5" stroke="#4a4a4a" stroke-width="0.8"/>
<text x="178.1" y="404.35" text-anchor="end" font-size="7.6">2</text>
<path d="M180.5 380.5H183.5" stroke="#4a4a4a" stroke-width="0.8"/>
<text x="178.1" y="383.1" text-anchor="end" font-size="7.6">4</text>
<path d="M180.5 359.25H183.5" stroke="#4a4a4a" stroke-width="0.8"/>
<text x="178.1" y="361.85" text-anchor="end" font-size="7.6">6</text>
<path d="M180.5 338H183.5" stroke="#4a4a4a" stroke-width="0.8"/>
<text x="178.1" y="340.6" text-anchor="end" font-size="7.6">8</text>
<path d="M180.5 316.75H183.5" stroke="#4a4a4a" stroke-width="0.8"/>
<text x="178.1" y="319.35" text-anchor="end" font-size="7.6">10</text>
<path d="M180.5 295.5H183.5" stroke="#4a4a4a" stroke-width="0.8"/>
<text x="178.1" y="298.1" text-anchor="end" font-size="7.6">12</text>
<path d="M180.5 274.25H183.5" stroke="#4a4a4a" stroke-width="0.8"/>
<text x="178.1" y="276.85" text-anchor="end" font-size="7.6">14</text>
<path d="M180.5 253H183.5" stroke="#4a4a4a" stroke-width="0.8"/>
<text x="178.1" y="255.6" text-anchor="end" font-size="7.6">16</text>
<path d="M182 412.38H183.5" stroke="#4a4a4a" stroke-width="0.8"/>
<path d="M182 391.12H183.5" stroke="#4a4a4a" stroke-width="0.8"/>
<path d="M182 369.88H183.5" stroke="#4a4a4a" stroke-width="0.8"/>
<path d="M182 348.62H183.5" stroke="#4a4a4a" stroke-width="0.8"/>
<path d="M182 327.38H183.5" stroke="#4a4a4a" stroke-width="0.8"/>
<path d="M182 306.12H183.5" stroke="#4a4a4a" stroke-width="0.8"/>
<path d="M182 284.88H183.5" stroke="#4a4a4a" stroke-width="0.8"/>
<path d="M182 263.62H183.5" stroke="#4a4a4a" stroke-width="0.8"/>
<path d="M199 423.4V426.4" stroke="#4a4a4a" stroke-width="0.8"/>
<text x="199" y="434.7" text-anchor="middle" font-size="7.5">0</text>
<path d="M229.64 423.4V426.4" stroke="#4a4a4a" stroke-width="0.8"/>
<text x="229.64" y="434.7" text-anchor="middle" font-size="7.5">20</text>
<path d="M260.28 423.4V426.4" stroke="#4a4a4a" stroke-width="0.8"/>
<text x="260.28" y="434.7" text-anchor="middle" font-size="7.5">40</text>
<path d="M290.92 423.4V426.4" stroke="#4a4a4a" stroke-width="0.8"/>
<text x="290.92" y="434.7" text-anchor="middle" font-size="7.5">60</text>
<path d="M321.56 423.4V426.4" stroke="#4a4a4a" stroke-width="0.8"/>
<text x="321.56" y="434.7" text-anchor="middle" font-size="7.5">80</text>
<path d="M352.2 423.4V426.4" stroke="#4a4a4a" stroke-width="0.8"/>
<text x="352.2" y="434.7" text-anchor="middle" font-size="7.5">100</text>
<path d="M382.84 423.4V426.4" stroke="#4a4a4a" stroke-width="0.8"/>
<text x="382.84" y="434.7" text-anchor="middle" font-size="7.5">120</text>
<path d="M214.32 423.4V425" stroke="#4a4a4a" stroke-width="0.8"/>
<path d="M244.96 423.4V425" stroke="#4a4a4a" stroke-width="0.8"/>
<path d="M275.6 423.4V425" stroke="#4a4a4a" stroke-width="0.8"/>
<path d="M306.24 423.4V425" stroke="#4a4a4a" stroke-width="0.8"/>
<path d="M336.88 423.4V425" stroke="#4a4a4a" stroke-width="0.8"/>
<path d="M367.52 423.4V425" stroke="#4a4a4a" stroke-width="0.8"/>
<path d="M398.16 423.4V425" stroke="#4a4a4a" stroke-width="0.8"/>
<text x="291.5" y="448.8" text-anchor="middle" font-size="8.8">Time (min)</text>
<text transform="translate(159.2,381.5) rotate(-90)" font-size="8.85">Blood glucose (mmol/L)</text>
<path d="M199 372V382.62M197 372H201M197 382.62H201" stroke="#9a9a9a" stroke-width="1" fill="none"/>
<path d="M244.96 270.32V294.33M242.96 270.32H246.96M242.96 294.33H246.96" stroke="#9a9a9a" stroke-width="1" fill="none"/>
<path d="M290.92 293.91V320.47M288.92 293.91H292.92M288.92 320.47H292.92" stroke="#9a9a9a" stroke-width="1" fill="none"/>
<path d="M336.88 340.55V349.05M334.88 340.55H338.88M334.88 349.05H338.88" stroke="#9a9a9a" stroke-width="1" fill="none"/>
<path d="M382.84 360.31V368.81M380.84 360.31H384.84M380.84 368.81H384.84" stroke="#9a9a9a" stroke-width="1" fill="none"/>
<path d="M199 366.37V387.19M197 366.37H201M197 387.19H201" stroke="#f4a0a0" stroke-width="1" fill="none"/>
<path d="M244.96 319.3V325.68M242.96 319.3H246.96M242.96 325.68H246.96" stroke="#f4a0a0" stroke-width="1" fill="none"/>
<path d="M290.92 332.69V339.06M288.92 332.69H292.92M288.92 339.06H292.92" stroke="#f4a0a0" stroke-width="1" fill="none"/>
<path d="M336.88 352.66V361.16M334.88 352.66H338.88M334.88 361.16H338.88" stroke="#f4a0a0" stroke-width="1" fill="none"/>
<path d="M382.84 364.56V370.94M380.84 364.56H384.84M380.84 370.94H384.84" stroke="#f4a0a0" stroke-width="1" fill="none"/>
<path d="M199 373.27V379.65M197 373.27H201M197 379.65H201" stroke="#9cc2f2" stroke-width="1" fill="none"/>
<path d="M244.96 319.73V328.23M242.96 319.73H246.96M242.96 328.23H246.96" stroke="#9cc2f2" stroke-width="1" fill="none"/>
<path d="M290.92 333.22V339.59M288.92 333.22H292.92M288.92 339.59H292.92" stroke="#9cc2f2" stroke-width="1" fill="none"/>
<path d="M336.88 349.26V359.89M334.88 349.26H338.88M334.88 359.89H338.88" stroke="#9cc2f2" stroke-width="1" fill="none"/>
<path d="M382.84 362.97V371.47M380.84 362.97H384.84M380.84 371.47H384.84" stroke="#9cc2f2" stroke-width="1" fill="none"/>
<path d="M199 376.46V382.84M197 376.46H201M197 382.84H201" stroke="#92dcba" stroke-width="1" fill="none"/>
<path d="M244.96 297.84V321.85M242.96 297.84H246.96M242.96 321.85H246.96" stroke="#92dcba" stroke-width="1" fill="none"/>
<path d="M290.92 322.38V328.76M288.92 322.38H292.92M288.92 328.76H292.92" stroke="#92dcba" stroke-width="1" fill="none"/>
<path d="M336.88 336.83V343.21M334.88 336.83H338.88M334.88 343.21H338.88" stroke="#92dcba" stroke-width="1" fill="none"/>
<path d="M382.84 351.81V358.19M380.84 351.81H384.84M380.84 358.19H384.84" stroke="#92dcba" stroke-width="1" fill="none"/>
<polyline points="199,377.31 244.96,282.32 290.92,307.19 336.88,344.8 382.84,364.56" stroke="#686868" stroke-width="1" fill="none"/>
<polyline points="199,376.78 244.96,322.49 290.92,335.88 336.88,356.91 382.84,367.75" stroke="#f25c5c" stroke-width="1" fill="none"/>
<polyline points="199,376.46 244.96,323.98 290.92,336.41 336.88,354.57 382.84,367.22" stroke="#2f7be6" stroke-width="1" fill="none"/>
<polyline points="199,379.65 244.96,309.84 290.92,325.57 336.88,340.02 382.84,355" stroke="#27b97c" stroke-width="1" fill="none"/>
<rect x="197.1" y="375.41" width="3.8" height="3.8" fill="#3a3a3a"/>
<rect x="243.06" y="280.43" width="3.8" height="3.8" fill="#3a3a3a"/>
<rect x="289.02" y="305.29" width="3.8" height="3.8" fill="#3a3a3a"/>
<rect x="334.98" y="342.9" width="3.8" height="3.8" fill="#3a3a3a"/>
<rect x="380.94" y="362.66" width="3.8" height="3.8" fill="#3a3a3a"/>
<circle cx="199" cy="376.78" r="2.09" fill="#f03030"/>
<circle cx="244.96" cy="322.49" r="2.09" fill="#f03030"/>
<circle cx="290.92" cy="335.88" r="2.09" fill="#f03030"/>
<circle cx="336.88" cy="356.91" r="2.09" fill="#f03030"/>
<circle cx="382.84" cy="367.75" r="2.09" fill="#f03030"/>
<path d="M199 373.75L201.72 378.55H196.28Z" fill="#1a5fd6"/>
<path d="M244.96 321.26L247.68 326.06H242.24Z" fill="#1a5fd6"/>
<path d="M290.92 333.69L293.64 338.5H288.2Z" fill="#1a5fd6"/>
<path d="M336.88 351.86L339.6 356.66H334.16Z" fill="#1a5fd6"/>
<path d="M382.84 364.5L385.56 369.31H380.12Z" fill="#1a5fd6"/>
<path d="M199 382.37L201.72 377.56H196.28Z" fill="#0e9e5a"/>
<path d="M244.96 312.56L247.68 307.75H242.24Z" fill="#0e9e5a"/>
<path d="M290.92 328.29L293.64 323.48H288.2Z" fill="#0e9e5a"/>
<path d="M336.88 342.74L339.6 337.93H334.16Z" fill="#0e9e5a"/>
<path d="M382.84 357.72L385.56 352.91H380.12Z" fill="#0e9e5a"/>
<rect x="360.3" y="234" width="79.7" height="44.2" fill="#fff" stroke="#999" stroke-width="0.8"/>
<path d="M361.5 240H382" stroke="#686868" stroke-width="1"/>
<rect x="369.7" y="238.2" width="3.6" height="3.6" fill="#3a3a3a"/>
<text x="384.4" y="243.2" font-size="9">NC</text>
<path d="M361.5 250.8H382" stroke="#f25c5c" stroke-width="1"/>
<circle cx="371.5" cy="250.8" r="1.98" fill="#f03030"/>
<text x="384.4" y="254" font-size="9">Acarbose (AB)</text>
<path d="M361.5 261.6H382" stroke="#2f7be6" stroke-width="1"/>
<path d="M371.5 259.03L374.07 263.58H368.93Z" fill="#1a5fd6"/>
<text x="384.4" y="264.8" font-size="9">IA-A</text>
<path d="M361.5 272.4H382" stroke="#27b97c" stroke-width="1"/>
<path d="M371.5 274.97L374.07 270.42H368.93Z" fill="#0e9e5a"/>
<text x="384.4" y="275.6" font-size="9">IA-C</text>
</svg></body></html>
